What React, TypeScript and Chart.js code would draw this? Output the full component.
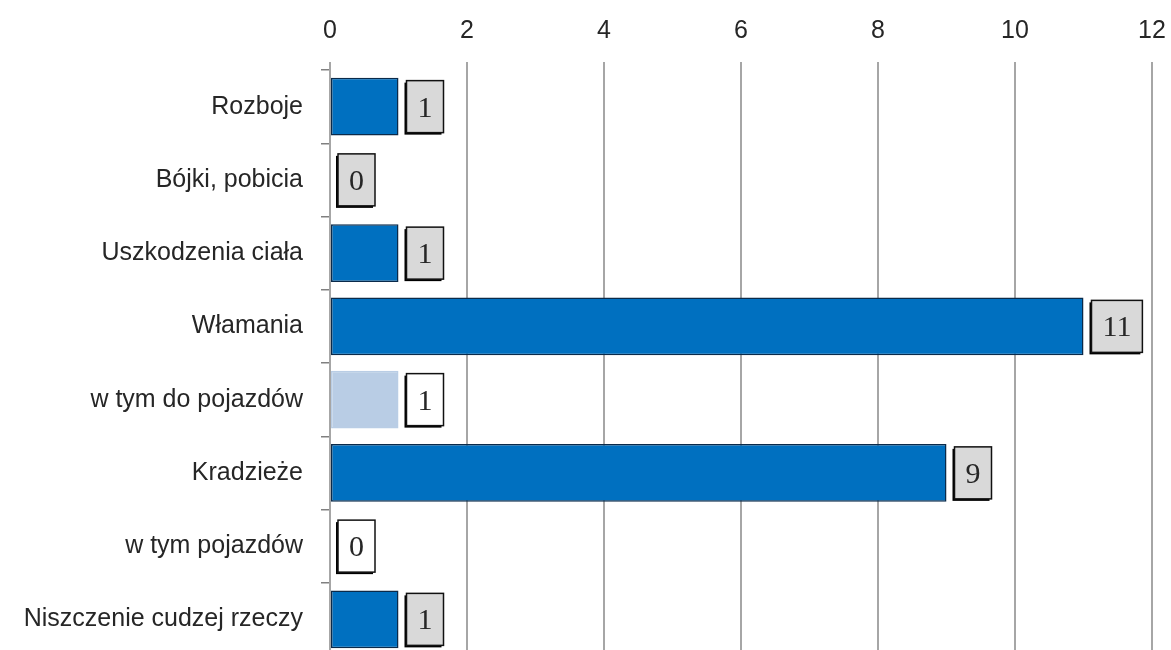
import React, { useEffect, useRef } from "react";
import { Chart, registerables } from "chart.js";

Chart.register(...registerables);

const categories = [
  "Rozboje",
  "Bójki, pobicia",
  "Uszkodzenia ciała",
  "Włamania",
  "w tym do pojazdów",
  "Kradzieże",
  "w tym pojazdów",
  "Niszczenie cudzej rzeczy",
];
const counts = [1, 0, 1, 11, 1, 9, 0, 1];
// sub-items ("w tym ...") are drawn lighter and get white value boxes
const isSubItem = [false, false, false, false, true, false, true, false];
const xTicks = [0, 2, 4, 6, 8, 10, 12];

const DARK = "#0070C0";
const LIGHT = "#B9CDE5";

const valueBoxes = {
  id: "valueBoxes",
  afterDatasetsDraw(chart: any) {
    const { ctx } = chart;
    const meta = chart.getDatasetMeta(0);
    ctx.save();
    ctx.font = "30px 'Liberation Serif', serif";
    ctx.textAlign = "center";
    ctx.textBaseline = "middle";
    meta.data.forEach((bar: any, i: number) => {
      const text = String(counts[i]);
      const tw = ctx.measureText(text).width;
      const w = Math.max(36, tw + 22);
      const h = 52;
      const left = bar.x + 8;
      const top = bar.y - h / 2;
      // drop shadow
      ctx.fillStyle = "#000";
      ctx.fillRect(left - 2, top + 2, w, h);
      ctx.fillStyle = isSubItem[i] ? "#FFFFFF" : "#D9D9D9";
      ctx.fillRect(left, top, w, h);
      ctx.lineWidth = 1.5;
      ctx.strokeStyle = "#111";
      ctx.strokeRect(left, top, w, h);
      ctx.fillStyle = "#262626";
      ctx.fillText(text, left + w / 2, bar.y + 2);
    });
    ctx.restore();
  },
};

export default function App() {
  const ref = useRef<HTMLCanvasElement>(null);
  useEffect(() => {
    if (!ref.current) return;
    const chart = new Chart(ref.current, {
      type: "bar",
      data: {
        labels: categories,
        datasets: [
          {
            data: counts,
            backgroundColor: counts.map((_, i) => (isSubItem[i] ? LIGHT : DARK)),
            borderColor: counts.map((_, i) => (isSubItem[i] ? LIGHT : "#0A2A4A")),
            borderWidth: 1.5,
            borderSkipped: false,
            barPercentage: 0.79,
            categoryPercentage: 1,
          },
        ],
      },
      plugins: [valueBoxes],
      options: {
        indexAxis: "y",
        animation: false,
        responsive: false,
        layout: { padding: { left: 0, right: 19, top: 0, bottom: 4 } },
        plugins: { legend: { display: false }, tooltip: { enabled: false } },
        scales: {
          x: {
            position: "top",
            min: 0,
            max: 12,
            afterBuildTicks: (axis: any) => {
              axis.ticks = xTicks.map((v) => ({ value: v }));
            },
            afterFit: (axis: any) => {
              axis.height = 70;
              axis.paddingLeft = 0;
              axis.paddingRight = 0;
            },
            grid: {
              color: "#A6A6A6",
              lineWidth: 2,
              drawTicks: true,
              tickLength: 8,
            },
            border: { display: false },
            ticks: {
              color: "#262626",
              font: { family: "'Liberation Sans', sans-serif", size: 25 },
              padding: 16,
            },
          },
          y: {
            afterFit: (axis: any) => {
              axis.width = 330;
              axis.paddingTop = 0;
              axis.paddingBottom = 0;
            },
            grid: {
              offset: true,
              drawOnChartArea: false,
              drawTicks: true,
              tickLength: 9,
              color: "#808080",
              lineWidth: 1.5,
            },
            border: { display: true, color: "#A6A6A6", width: 2 },
            ticks: {
              color: "#262626",
              font: { family: "'Liberation Sans', sans-serif", size: 25 },
              padding: 18,
            },
          },
        },
      },
    });
    return () => chart.destroy();
  }, []);
  return (
    <div
      style={{
        position: "fixed",
        left: 0,
        top: 0,
        width: 1171,
        height: 650,
        overflow: "hidden",
        background: "#fff",
      }}
    >
      <canvas ref={ref} width={1171} height={660} />
    </div>
  );
}
